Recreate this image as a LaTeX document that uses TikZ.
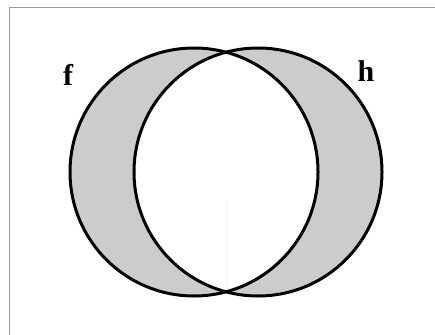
\documentclass[tikz,border=0pt]{standalone}
\usepackage{fontspec}
\setmainfont{Liberation Serif}
\begin{document}
\begin{tikzpicture}[x=1pt,y=-1pt,
  setline/.style={line width=3pt,black},
  setlabel/.style={font=\fontsize{30}{30}\selectfont\bfseries,inner sep=0pt},
  frameline/.style={draw=black!40,line width=1pt}]
\useasboundingbox (0,0) rectangle (435,334);
\fill[white] (0,0) rectangle (435,334);
\draw[frameline] (9,340) -- (9,7.5) -- (440,7.5);
\coordinate (cf) at (194,172);
\coordinate (ch) at (258,172);
\fill[black!20,even odd rule] (cf) circle (124) (ch) circle (124);
\draw[black!6,line width=0.8pt] (227,200) -- (227,290);
\draw[setline] (cf) circle (124);
\draw[setline] (ch) circle (124);
\node[setlabel] (f) at (68,74.5) {f};
\node[setlabel] (h) at (366,71) {h};
\end{tikzpicture}
\end{document}
